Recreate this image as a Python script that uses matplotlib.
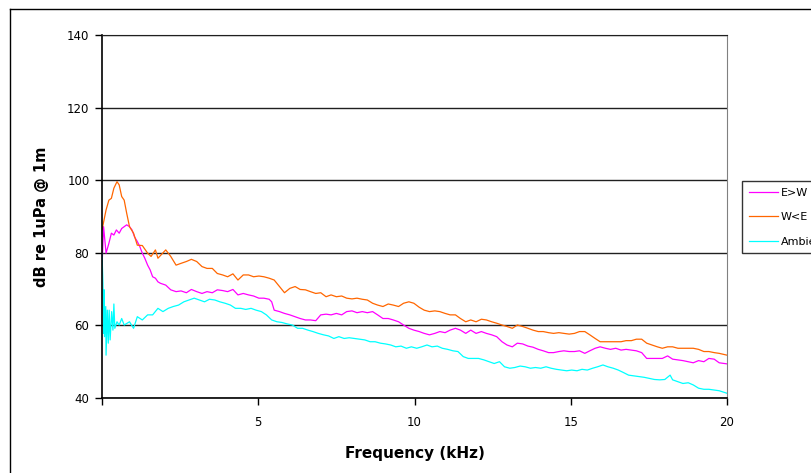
import matplotlib
matplotlib.use("Agg")
import matplotlib.pyplot as plt
from matplotlib.lines import Line2D

plt.rcParams["font.family"] = ["DejaVu Sans"]

# --- E>W pass (magenta) ---
ew_khz = [0, 0.05, 0.13, 0.22, 0.30, 0.38, 0.46, 0.55, 0.63, 0.71, 0.79, 0.88, 0.96,
          1.04, 1.13, 1.21, 1.29, 1.37, 1.46, 1.54, 1.62, 1.71, 1.79, 1.87, 2.04, 2.20,
          2.37, 2.53, 2.70, 2.86, 3.03, 3.20, 3.36, 3.53, 3.69, 3.86, 4.02, 4.19, 4.35,
          4.52, 4.69, 4.85, 5.02, 5.18, 5.35, 5.43, 5.51, 5.68, 5.84, 6.01, 6.18, 6.34,
          6.51, 6.67, 6.84, 7.00, 7.17, 7.33, 7.50, 7.67, 7.83, 8.00, 8.16, 8.33, 8.49,
          8.66, 8.82, 8.99, 9.16, 9.32, 9.49, 9.65, 9.82, 9.98, 10.15, 10.31, 10.48,
          10.65, 10.81, 10.98, 11.14, 11.31, 11.47, 11.64, 11.80, 11.97, 12.14, 12.30,
          12.47, 12.63, 12.80, 12.96, 13.13, 13.29, 13.46, 13.63, 13.79, 13.96, 14.12,
          14.29, 14.45, 14.62, 14.78, 14.95, 15.12, 15.28, 15.45, 15.61, 15.78, 15.94,
          16.11, 16.27, 16.44, 16.61, 16.77, 16.94, 17.10, 17.27, 17.43, 17.60, 17.77,
          17.93, 18.10, 18.26, 18.43, 18.59, 18.76, 18.92, 19.09, 19.26, 19.42, 19.59,
          19.75, 20.0]
ew_db = [76.0, 87.2, 79.9, 82.6, 85.4, 84.9, 86.3, 85.4, 86.7, 87.2, 87.7, 87.2, 86.3,
         84.4, 83.1, 81.7, 79.9, 78.5, 76.6, 75.3, 73.4, 73.0, 72.0, 71.6, 71.1, 69.8,
         69.3, 69.5, 69.0, 69.9, 69.3, 68.8, 69.3, 69.0, 69.8, 69.6, 69.3, 69.9, 68.4,
         68.8, 68.4, 68.1, 67.5, 67.5, 67.2, 66.5, 64.2, 63.8, 63.3, 62.9, 62.4, 61.9,
         61.5, 61.5, 61.3, 62.9, 63.1, 62.9, 63.3, 62.9, 63.8, 64.0, 63.5, 63.8, 63.5,
         63.8, 62.9, 61.9, 61.9, 61.5, 61.0, 60.1, 59.2, 58.7, 58.3, 57.8, 57.4,
         57.8, 58.3, 58.0, 58.7, 59.2, 58.7, 57.8, 58.7, 57.8, 58.3, 57.8,
         57.4, 56.9, 55.5, 54.6, 54.1, 55.1, 54.9, 54.3, 54.0, 53.4, 53.0,
         52.5, 52.5, 52.8, 53.0, 52.8, 52.8, 53.0, 52.3, 53.0, 53.7, 54.1,
         53.7, 53.4, 53.7, 53.2, 53.4, 53.2, 53.0, 52.5, 50.9, 50.9, 50.9,
         50.9, 51.6, 50.7, 50.5, 50.3, 50.0, 49.7, 50.3, 50.0, 50.9, 50.7,
         49.7, 49.4]

# --- W<E pass (orange) ---
we_khz = [0, 0.13, 0.22, 0.30, 0.38, 0.48, 0.55, 0.63, 0.71, 0.79, 0.88, 1.01, 1.13,
          1.29, 1.46, 1.57, 1.71, 1.79, 2.04, 2.20,
          2.37, 2.53, 2.70, 2.86, 3.03, 3.20, 3.36, 3.53, 3.69, 3.86, 4.02, 4.19, 4.35,
          4.52, 4.69, 4.85, 5.02, 5.18, 5.35, 5.51, 5.68, 5.84, 6.01, 6.18, 6.34,
          6.51, 6.67, 6.84, 7.00, 7.17, 7.33, 7.50, 7.67, 7.83, 8.00, 8.16, 8.33, 8.49,
          8.66, 8.82, 8.99, 9.16, 9.32, 9.49, 9.65, 9.82, 9.98, 10.15, 10.31, 10.48,
          10.65, 10.81, 10.98, 11.14, 11.31, 11.47, 11.64, 11.80, 11.97, 12.14, 12.30,
          12.47, 12.63, 12.80, 12.96, 13.13, 13.29, 13.46, 13.63, 13.79, 13.96, 14.12,
          14.29, 14.45, 14.62, 14.78, 14.95, 15.12, 15.28, 15.45, 15.61, 15.78, 15.94,
          16.11, 16.27, 16.44, 16.61, 16.77, 16.94, 17.10, 17.27, 17.43, 17.60, 17.77,
          17.93, 18.10, 18.26, 18.43, 18.59, 18.76, 18.92, 19.09, 19.26, 19.42, 19.59,
          19.75, 20.0]
we_db = [86.3, 91.8, 94.5, 95.0, 97.8, 99.6, 98.7, 95.5, 94.5, 90.9, 87.2, 85.4, 82.1,
         82.0, 79.9, 79.0, 80.8, 78.5, 80.8, 79.0,
         76.6, 77.1, 77.6, 78.2, 77.6, 76.2, 75.7, 75.7, 74.3, 73.9, 73.4, 74.2, 72.5,
         73.9, 73.9, 73.4, 73.6, 73.4, 73.0, 72.5, 70.7, 69.0, 70.2, 70.7, 69.9,
         69.8, 69.3, 68.8, 69.0, 67.9, 68.4, 67.9, 68.1, 67.5, 67.3, 67.5, 67.2, 67.0,
         66.1, 65.6, 65.2, 65.9, 65.6, 65.2, 66.1, 66.5, 66.1, 65.0, 64.2, 63.8,
         64.0, 63.8, 63.3, 62.9, 62.9, 61.9, 61.0, 61.5, 61.0, 61.7, 61.5,
         61.0, 60.6, 60.1, 59.7, 59.2, 60.1, 59.7, 59.2, 58.7, 58.3, 58.3,
         58.0, 57.8, 58.0, 57.8, 57.6, 57.8, 58.3, 58.3, 57.4, 56.4, 55.5,
         55.5, 55.5, 55.5, 55.5, 55.8, 55.8, 56.2, 56.2, 55.1, 54.6, 54.1,
         53.7, 54.1, 54.1, 53.7, 53.7, 53.7, 53.7, 53.4, 52.8, 52.8, 52.5,
         52.3, 51.8]

# --- Ambient (cyan) ---
amb_khz = [0, 0.03, 0.05, 0.07, 0.08, 0.12, 0.13, 0.17, 0.20, 0.23, 0.26, 0.31, 0.35,
           0.38, 0.41, 0.48, 0.55, 0.63, 0.71, 0.88, 1.01, 1.13, 1.29, 1.46, 1.62,
           1.79, 1.95, 2.12, 2.28, 2.45, 2.62, 2.78, 2.95, 3.11, 3.28, 3.44, 3.61,
           3.77, 3.94, 4.11, 4.27, 4.44, 4.60, 4.77, 4.93, 5.10, 5.26, 5.43, 5.60,
           5.76, 5.93, 6.09, 6.26, 6.42, 6.59, 6.75, 6.92, 7.09, 7.25, 7.42, 7.58,
           7.75, 7.91, 8.08, 8.25, 8.41, 8.58, 8.74, 8.91, 9.07, 9.24, 9.40, 9.57,
           9.74, 9.90, 10.07, 10.23, 10.40, 10.56, 10.73, 10.89, 11.06, 11.23, 11.39,
           11.56, 11.72, 11.89, 12.05, 12.22, 12.38, 12.55, 12.72, 12.88, 13.05, 13.21,
           13.38, 13.54, 13.71, 13.87, 14.04, 14.21, 14.37, 14.54, 14.70, 14.87, 15.03,
           15.20, 15.36, 15.53, 15.70, 15.86, 16.03, 16.19, 16.36, 16.52, 16.69, 16.85,
           17.02, 17.19, 17.35, 17.52, 17.68, 17.85, 18.01, 18.18, 18.26, 18.43, 18.59,
           18.76, 18.92, 19.09, 19.26, 19.42, 19.59, 19.75, 20.0]
amb_db = [79.9, 71.6, 57.8, 69.8, 56.9, 65.2, 51.8, 64.2, 55.1, 64.2, 56.0, 63.8, 58.7,
          65.9, 59.2, 61.0, 60.1, 61.9, 60.1, 61.0, 59.2, 62.4, 61.5, 62.9, 62.9,
          64.7, 63.8, 64.7, 65.2, 65.6, 66.5, 67.0, 67.5, 67.0, 66.5, 67.2, 67.0,
          66.5, 66.1, 65.6, 64.7, 64.7, 64.4, 64.7, 64.2, 63.8, 62.9, 61.5, 61.0,
          60.8, 60.4, 60.1, 59.2, 59.2, 58.7, 58.3, 57.8, 57.4, 57.1, 56.4, 56.9,
          56.4, 56.6, 56.4, 56.2, 56.0, 55.5, 55.5, 55.1, 54.9, 54.6, 54.1, 54.3,
          53.7, 54.1, 53.7, 54.1, 54.6, 54.1, 54.3, 53.7, 53.4, 53.0, 52.8,
          51.4, 50.9, 50.9, 50.9, 50.5, 50.0, 49.5, 50.0, 48.6, 48.2, 48.4,
          48.8, 48.6, 48.2, 48.4, 48.2, 48.6, 48.2, 47.9, 47.7, 47.5, 47.7,
          47.5, 47.9, 47.7, 48.2, 48.6, 49.1, 48.6, 48.2, 47.7, 47.0, 46.3,
          46.1, 45.9, 45.7, 45.4, 45.1, 45.0, 45.1, 46.3, 45.0, 44.5, 44.0,
          44.2, 43.6, 42.7, 42.4, 42.4, 42.2, 42.0, 41.3]

series_names = ["E>W", "W<E", "Ambient"]
series_colors = ["#FF00FF", "#FF6600", "#00FFFF"]

fig = plt.figure(figsize=(8.11, 4.73), dpi=100)
ax = fig.add_axes([102 / 811, 1 - 398 / 473, 625 / 811, 363 / 473])

ax.plot(ew_khz, ew_db, color=series_colors[0], lw=0.9, label=series_names[0])
ax.plot(we_khz, we_db, color=series_colors[1], lw=0.9, label=series_names[1])
ax.plot(amb_khz, amb_db, color=series_colors[2], lw=0.9, label=series_names[2])

ax.set_xlim(0, 20)
ax.set_ylim(40, 140)
ax.set_xticks([0, 5, 10, 15, 20])
ax.set_xticklabels(["", "5", "10", "15", "20"])
ax.set_yticks(range(40, 141, 20))
ax.tick_params(direction="out", length=5, width=1, labelsize=8.5, color="black")
ax.tick_params(axis="x", pad=8)
ax.tick_params(axis="y", pad=4)

# horizontal gridlines only
ax.yaxis.grid(True, color="#202020", lw=1)
ax.set_axisbelow(True)
ax.spines["top"].set_color("#202020")
ax.spines["right"].set_color("#808080")
ax.spines["left"].set_color("black")
ax.spines["bottom"].set_color("black")
ax.spines["left"].set_linewidth(1.2)
ax.spines["bottom"].set_linewidth(1.2)

ax.set_xlabel("Frequency (kHz)", fontsize=11, fontweight="bold", labelpad=12)
ax.set_ylabel("dB re 1uPa @ 1m", fontsize=10.5, fontweight="bold", labelpad=13)

leg = fig.legend(loc="upper left", bbox_to_anchor=(742 / 811, 1 - 181 / 473),
                 fontsize=8, frameon=True, fancybox=False, handlelength=2.6,
                 handletextpad=0.3, labelspacing=1.3, borderpad=0.6, borderaxespad=0)
leg.get_frame().set_edgecolor("black")
leg.get_frame().set_linewidth(1)

# outer chart frame (runs off the right and bottom edges)
fig.add_artist(Line2D([10 / 811, 1.0], [1 - 9 / 473] * 2, color="black", lw=1))
fig.add_artist(Line2D([10 / 811] * 2, [0.0, 1 - 9 / 473], color="black", lw=1))

fig.savefig("out.png", dpi=100)
